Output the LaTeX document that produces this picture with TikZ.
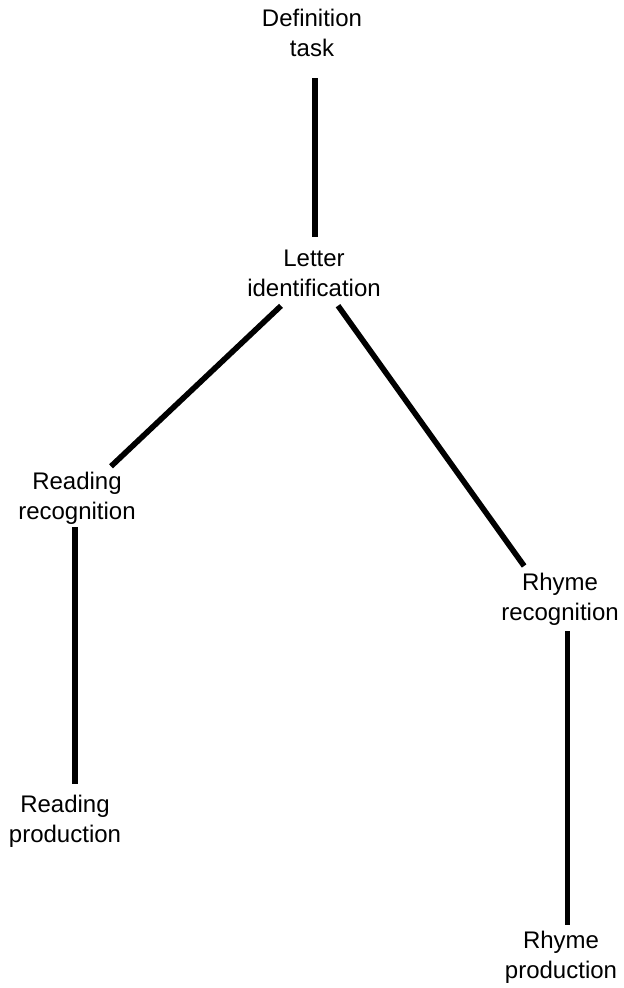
\documentclass[tikz,border=0pt]{standalone}
\usepackage{fontspec}
\setmainfont{Liberation Sans}
\usepackage{tikz}
\usetikzlibrary{positioning}

\tikzset{
  stage/.style = {shape = rectangle, inner sep = 0pt, outer sep = 0pt, align = center, font = \fontsize{12}{15}\selectfont},
  link/.style = {line width = 2.8pt}
}

\begin{document}
\begin{tikzpicture}[x = 0.5pt, y = -0.5pt]
\useasboundingbox (0,0) rectangle (623,988);
\node[stage] (def)   at (312,33.4)  {Definition\\task};
\node[stage] (let)   at (314,273.4) {Letter\\identification};
\node[stage] (rrec)  at (77,498)    {Reading\\recognition};
\node[stage] (rprod) at (65,821)    {Reading\\production};
\node[stage] (hrec)  at (560,599)   {Rhyme\\recognition};
\node[stage] (hprod) at (561,957)   {Rhyme\\production};
\draw[link, shorten < = 10.5pt, shorten > = 6.5pt] ([xshift = 1.5pt]def.south) -- ([xshift = 1.5pt]def.south |- let.north);
\draw[link, shorten < = 6.6pt, shorten > = 4pt] ([xshift = -11.7pt]let.south) -- ([xshift = 14.1pt]rrec.north);
\draw[link, shorten < = 5.5pt, shorten > = 4.2pt] ([xshift = 8.8pt]let.south) -- ([xshift = -15.5pt]hrec.north);
\draw[link, shorten < = 1.5pt, shorten > = 5.3pt] ([xshift = -1pt]rrec.south) -- ([xshift = -1pt]rrec.south |- rprod.north);
\draw[link, shorten < = 3pt, shorten > = 3pt] ([xshift = 3.75pt]hrec.south) -- ([xshift = 3.75pt]hrec.south |- hprod.north);
\end{tikzpicture}
\end{document}
